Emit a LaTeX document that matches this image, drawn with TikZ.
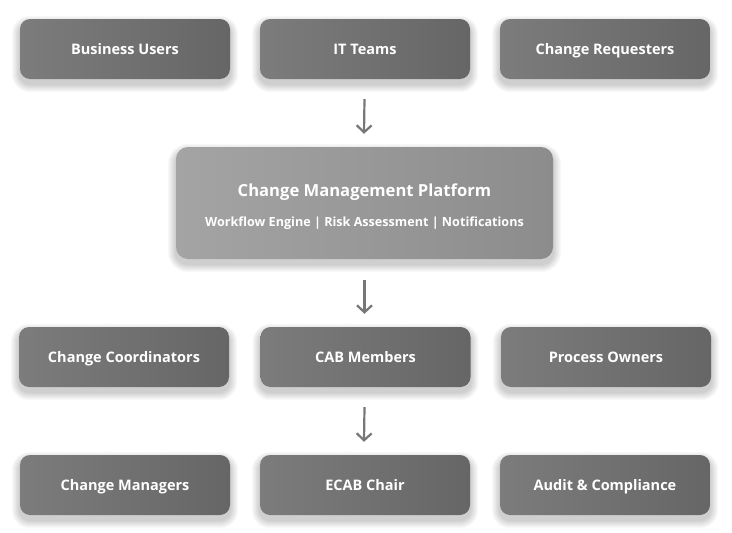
\documentclass[tikz,border=0pt]{standalone}
\usepackage{fontspec}
\setmainfont{Open Sans}
\usetikzlibrary{arrows.meta}
\definecolor{boxL}{HTML}{7C7C7C}
\definecolor{boxR}{HTML}{666666}
\definecolor{platL}{HTML}{A4A4A4}
\definecolor{platR}{HTML}{8C8C8C}
\definecolor{arrC}{HTML}{777777}
\pgfdeclarelayer{bg}
\pgfsetlayers{bg,main}
\tikzset{
  rolebox/.style={rounded corners=10pt, minimum width=210pt, minimum height=60pt,
    left color=boxL, right color=boxR, draw=none, text=white,
    text height=12.5pt, text depth=1.5pt,
    font=\fontsize{14.5}{16}\selectfont\bfseries},
  platbox/.style={rounded corners=12pt, minimum width=377pt, minimum height=112pt,
    left color=platL, right color=platR, draw=none},
  plattitle/.style={anchor=base, inner sep=0pt, text=white, font=\fontsize{16.6}{20}\selectfont\bfseries},
  platsub/.style={anchor=base, inner sep=0pt, text=white, font=\fontsize{12.6}{15}\selectfont\bfseries},
  softshadow/.style={fill=black, opacity=0.022},
  flow/.style={draw=arrC, line width=2.2pt, -{Straight Barb[length=7pt,width=15pt,line width=2.2pt]}}
}
\newcommand\dropshadow[2]{% node name, corner radius
  \begin{pgfonlayer}{bg}
  \foreach \i in {1,...,8}{
    \fill[softshadow, rounded corners=#2+\i pt]
      ([xshift=-\i pt, yshift=\i pt-5pt]#1.north west) rectangle
      ([xshift=\i pt, yshift=-\i pt-5pt]#1.south east);
  }
  \end{pgfonlayer}}
\begin{document}
\begin{tikzpicture}[x=1pt,y=-1pt]
\begin{pgfonlayer}{bg}
\useasboundingbox[fill=white] (0,0) rectangle (732,533);
\end{pgfonlayer}
% row 1
\node[rolebox] (bu) at (125,49) {Business Users};
\node[rolebox] (it) at (365,49) {IT Teams};
\node[rolebox] (cr) at (605,49) {Change Requesters};
% platform
\node[platbox] (plat) at (364.5,203) {};
\node[plattitle] (pt) at ([yshift=6.5pt]plat.center) {Change Management Platform};
\node[platsub] (ps) at ([yshift=-23pt]plat.center) {Workflow Engine | Risk Assessment | Notifications};
% row 3
\node[rolebox] (cc) at (124,357) {Change Coordinators};
\node[rolebox] (cab) at (365.5,357) {CAB Members};
\node[rolebox] (po) at (606,357) {Process Owners};
% row 4
\node[rolebox] (cm) at (125,485) {Change Managers};
\node[rolebox] (ecab) at (365,485) {ECAB Chair};
\node[rolebox] (ac) at (605,485) {Audit \& Compliance};
% shadows
\foreach \n in {bu,it,cr,cc,cab,po,cm,ecab,ac}{\dropshadow{\n}{10pt}}
\dropshadow{plat}{12pt}
% arrows
\draw[flow] ([xshift=-0.5pt,yshift=-20pt]it.south) -- ([xshift=-0.5pt,yshift=13pt]plat.north);
\draw[flow] ([yshift=-21pt]plat.south) -- ([xshift=-1pt,yshift=13pt]cab.north);
\draw[flow] ([xshift=-1pt,yshift=-20pt]cab.south) -- ([xshift=-1pt,yshift=13pt]ecab.north);
\end{tikzpicture}
\end{document}
